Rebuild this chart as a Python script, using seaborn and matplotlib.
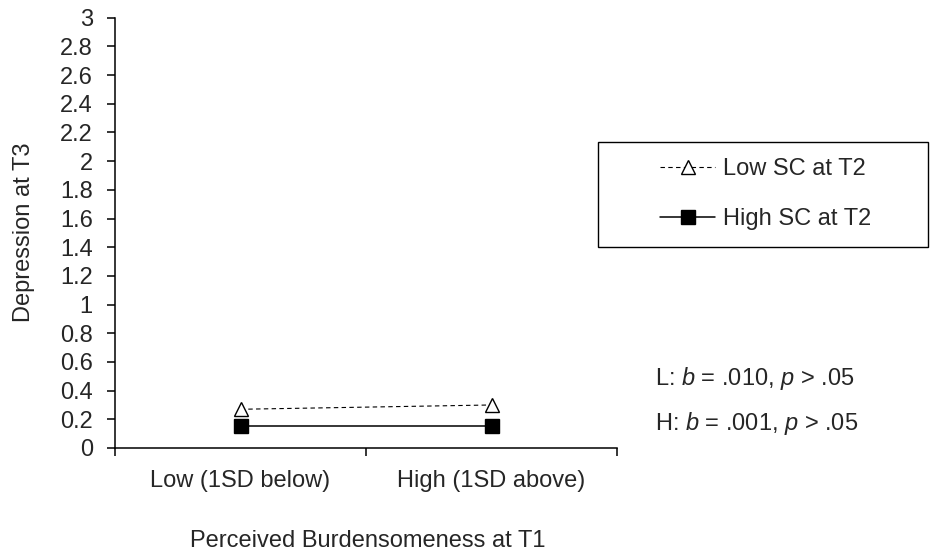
import matplotlib
matplotlib.use("Agg")
import matplotlib.pyplot as plt
import seaborn as sns
from matplotlib.patches import Rectangle

# ---- data ----
categories = ["Low (1SD below)", "High (1SD above)"]
low_sc_values = [0.27, 0.30]
high_sc_values = [0.15, 0.15]
series_labels = ["Low SC at T2", "High SC at T2"]
y_tick_values = [0, 0.2, 0.4, 0.6, 0.8, 1, 1.2, 1.4, 1.6, 1.8, 2, 2.2, 2.4, 2.6, 2.8, 3]
y_tick_labels = ["0", "0.2", "0.4", "0.6", "0.8", "1", "1.2", "1.4", "1.6", "1.8",
                 "2", "2.2", "2.4", "2.6", "2.8", "3"]
x_title = "Perceived Burdensomeness at T1"
y_title = "Depression at T3"
notes = ["L: $b$ = .010, $p$ > .05", "H: $b$ = .001, $p$ > .05"]

# ---- style ----
sns.set_style("ticks")
plt.rcParams["font.family"] = ["Liberation Sans", "DejaVu Sans"]
plt.rcParams["mathtext.fontset"] = "custom"
plt.rcParams["mathtext.rm"] = "Liberation Sans"
plt.rcParams["mathtext.it"] = "Liberation Sans:italic"
FS = 17

W, H = 932, 554
fig = plt.figure(figsize=(W / 100, H / 100), dpi=100)
ax = fig.add_axes([115 / W, 1 - 448 / H, 502 / W, 430.3 / H])

sns.lineplot(x=categories, y=low_sc_values, ax=ax, sort=False,
             color="black", linewidth=0.8, linestyle=(0, (4, 3)),
             marker="^", markersize=9.5, markerfacecolor="white",
             markeredgecolor="black", markeredgewidth=1.0,
             label=series_labels[0])
sns.lineplot(x=categories, y=high_sc_values, ax=ax, sort=False,
             color="black", linewidth=1.1, linestyle="-",
             marker="s", markersize=10.5, markerfacecolor="black",
             markeredgecolor="black", markeredgewidth=1.0,
             label=series_labels[1])

# ---- axes ----
ax.set_xlim(-0.5, 1.5)
ax.set_ylim(0, 3)
ax.set_yticks(y_tick_values)
ax.set_yticklabels(y_tick_labels, fontsize=FS)
ax.set_xticks([0, 1])
ax.set_xticklabels(categories, fontsize=FS)
ax.set_xticks([-0.5, 0.5, 1.5], minor=True)
ax.tick_params(axis="x", which="major", length=0, pad=16)
ax.tick_params(axis="x", which="minor", length=6, width=1.1, direction="out", color="black")
ax.tick_params(axis="y", which="major", length=6, width=1.1, direction="out", pad=10, color="black")
ax.tick_params(axis="y", which="minor", length=0)
for s in ["top", "right"]:
    ax.spines[s].set_visible(False)
for s in ["left", "bottom"]:
    ax.spines[s].set_linewidth(1.1)
    ax.spines[s].set_color("black")
ax.set_xlabel("")
ax.set_ylabel("")

fig.text(368 / W, 1 - 547 / H, x_title, ha="center", va="baseline", fontsize=FS)
fig.text(24 / W, 1 - 232.5 / H, y_title, ha="center", va="center", rotation=90, fontsize=FS)

# ---- legend ----
fig.add_artist(Rectangle((598 / W, 1 - 247 / H), 330 / W, 105 / H,
                         transform=fig.transFigure, fill=False,
                         edgecolor="black", linewidth=1.0))
leg = ax.legend(loc="center left", bbox_to_anchor=(660 / W, 1 - 194 / H),
                bbox_transform=fig.transFigure, frameon=False, fontsize=FS,
                handlelength=2.35, handletextpad=0.3, labelspacing=1.2,
                borderpad=0, borderaxespad=0, numpoints=1)

# ---- notes ----
fig.text(655 / W, 1 - 385 / H, notes[0], ha="left", va="baseline", fontsize=FS)
fig.text(655 / W, 1 - 430 / H, notes[1], ha="left", va="baseline", fontsize=FS)

fig.savefig("out.png", dpi=100)
